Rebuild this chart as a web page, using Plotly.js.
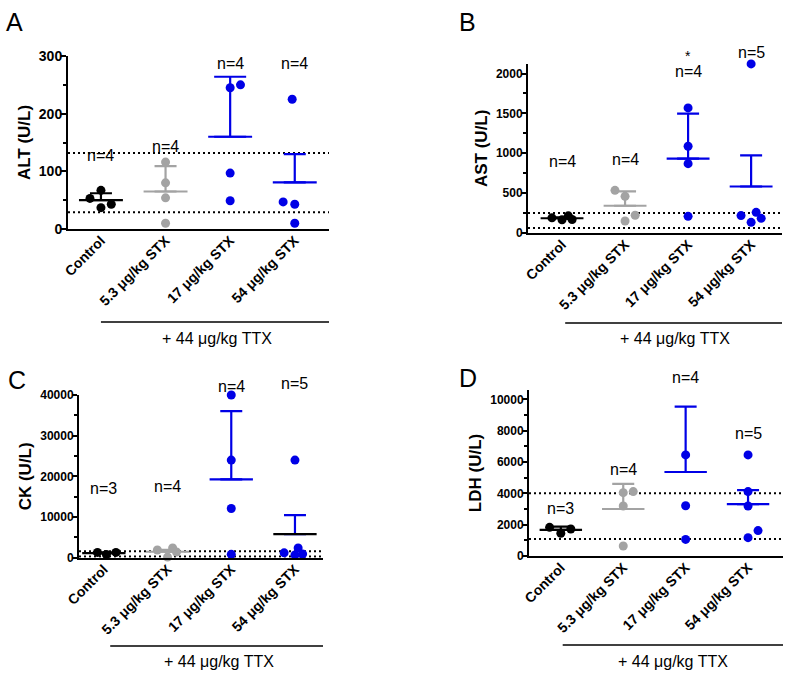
<!DOCTYPE html>
<html>
<head>
<meta charset="utf-8">
<script src="https://cdn.plot.ly/plotly-3.0.1.min.js"></script>
<style>
  html, body { margin: 0; padding: 0; background: #fff; }
  #chart { width: 797px; height: 676px; }
</style>
</head>
<body>
<div id="chart"></div>
<script>
// groups on the x axis
const categories = ['Control', '5.3 μg/kg STX', '17 μg/kg STX', '54 μg/kg STX'];
const groupColors = ['#000000', '#a3a3a3', '#0000e6', '#0000e6'];

// A - ALT
const altValues = [[53, 67, 37, 43], [116, 80, 54, 10], [245, 250, 97, 49], [225, 47, 43, 10]];
const altMean = [50, 65, 160, 81];
const altSem = [12, 44, 104, 49];
const altRef = [132, 29];
const altN = ['n=4', 'n=4', 'n=4', 'n=4'];

// B - AST
const astValues = [[190, 165, 215, 170], [535, 460, 222, 150], [1569, 1088, 870, 209], [2121, 218, 259, 134, 184]];
const astMean = [185, 342, 934, 583];
const astSem = [12, 181, 564, 392];
const astRef = [251, 63];
const astN = ['n=4', 'n=4', 'n=4', 'n=5'];

// C - CK
const ckValues = [[1300, 800, 1300], [1900, 2400, 150, 1400], [40000, 24000, 12100, 820], [24000, 1200, 2400, 660, 900]];
const ckMean = [1130, 1460, 19240, 5820];
const ckSem = [170, 500, 16800, 4670];
const ckRef = [1600, 300];
const ckN = ['n=3', 'n=4', 'n=4', 'n=5'];

// D - LDH
const ldhValues = [[1830, 1450, 1720], [4040, 4110, 3190, 640], [10700, 6450, 3210, 1060], [6450, 4110, 3190, 1620, 1170]];
const ldhMean = [1670, 3000, 5360, 3310];
const ldhSem = [200, 1600, 4170, 900];
const ldhRef = [4000, 1085];
const ldhN = ['n=3', 'n=4', 'n=4', 'n=5'];

const bracketText = '+ 44 μg/kg TTX';

// horizontal scatter of the dots inside each group (layout only)
const altJitter = [[-0.17, 0, 0, 0.16], [0, 0, 0, 0], [0, 0.16, 0, 0], [-0.04, -0.18, 0, 0]];
const astJitter = [[-0.16, 0, 0.1, 0.16], [-0.16, 0, 0.16, 0], [0, 0, 0, 0], [0, -0.16, 0.08, 0, 0.16]];
const ckJitter = [[-0.1, 0.04, 0.19], [-0.16, 0.08, 0, 0.14], [0, 0, 0, 0], [0, -0.17, 0.05, 0, 0.12]];
const ldhJitter = [[-0.18, 0, 0.16], [0, 0.16, 0, 0], [0, 0, 0, 0], [0, 0, 0, 0.16, 0]];

const W = 797, H = 676;
const px = v => v / W;
const py = v => 1 - v / H;

const FONT = 'Arial, "Liberation Sans", sans-serif';

const panels = [
  { id: '', letter: 'A', title: 'ALT (U/L)', values: altValues, mean: altMean, sem: altSem, ref: altRef, n: altN,
    jitter: altJitter, nY: [128, 143, 287, 287], yRange: [0, 300], dtick: 100, capW: [11, 11, 16, 11], tickSize: 14,
    xDom: [px(68), px(329)], yDom: [py(229), py(56)], xRange: [-0.51, 3.53],
    letterXY: [15, 22], bracket: [0, 3.6], bracketY: 322, textY: 338, meanColors: null },
  { id: '2', letter: 'B', title: 'AST (U/L)', values: astValues, mean: astMean, sem: astSem, ref: astRef, n: astN,
    jitter: astJitter, nY: [900, 920, 2020, 2260], yRange: [0, 2125], dtick: 500, capW: [11, 11, 11, 11], tickSize: 12,
    xDom: [px(528), px(782)], yDom: [py(233), py(63.6)], xRange: [-0.54, 3.49],
    letterXY: [468, 22], bracket: [0.05, 3.54], bracketY: 323, textY: 338, meanColors: null, star: 2215 },
  { id: '3', letter: 'C', title: 'CK (U/L)', values: ckValues, mean: ckMean, sem: ckSem, ref: ckRef, n: ckN,
    jitter: ckJitter, nY: [16900, 17500, 42200, 42900], yRange: [0, 40000], dtick: 10000, capW: [11, 11, 11, 11], tickSize: 12,
    xDom: [px(79), px(323)], yDom: [py(557.7), py(395)], xRange: [-0.39, 3.44],
    letterXY: [17, 380], bracket: [0.1, 3.5], bracketY: 646, textY: 661,
    meanColors: ['#000000', '#a3a3a3', '#0000e6', '#000000'] },
  { id: '4', letter: 'D', title: 'LDH (U/L)', values: ldhValues, mean: ldhMean, sem: ldhSem, ref: ldhRef, n: ldhN,
    jitter: ldhJitter, nY: [3000, 5500, 11400, 7800], yRange: [0, 10600], dtick: 2000, capW: [11, 11, 11, 11], tickSize: 12,
    xDom: [px(529), px(783)], yDom: [py(556), py(389.9)], xRange: [-0.51, 3.56],
    letterXY: [468, 378], bracket: [0.03, 3.56], bracketY: 645, textY: 661, meanColors: null }
];

// data value -> paper fraction (annotations above the axis range would be hidden with yref 'y')
function yPaper(p, v) {
  return p.yDom[0] + (v - p.yRange[0]) / (p.yRange[1] - p.yRange[0]) * (p.yDom[1] - p.yDom[0]);
}

const traces = [];
const shapes = [];
const annotations = [];
const layout = {
  width: W, height: H,
  margin: { l: 0, r: 0, t: 0, b: 0 },
  paper_bgcolor: '#fff', plot_bgcolor: '#fff',
  showlegend: false,
  font: { family: FONT, color: '#000' }
};

panels.forEach(p => {
  const xa = 'x' + p.id, ya = 'y' + p.id;

  // dots
  p.values.forEach((vals, g) => {
    traces.push({
      type: 'scatter', mode: 'markers', xaxis: xa, yaxis: ya,
      x: vals.map((v, i) => g + p.jitter[g][i]), y: vals,
      marker: { size: 9, color: groupColors[g] },
      hoverinfo: 'y', cliponaxis: false
    });
  });

  // mean line + upper SEM
  p.mean.forEach((m, g) => {
    traces.push({
      type: 'scatter', mode: 'markers', xaxis: xa, yaxis: ya,
      x: [g], y: [m],
      marker: { size: 1, opacity: 0 },
      error_x: { type: 'data', array: [0.34], symmetric: true, width: 0, thickness: 2.2,
                 color: p.meanColors ? p.meanColors[g] : groupColors[g] },
      error_y: { type: 'data', symmetric: false, array: [p.sem[g]], arrayminus: [0], width: p.capW[g], thickness: 2.2,
                 color: groupColors[g] },
      hoverinfo: 'y', cliponaxis: false
    });
  });

  layout['xaxis' + p.id] = {
    domain: p.xDom, anchor: ya, range: p.xRange,
    tickvals: [0, 1, 2, 3], ticktext: categories, tickangle: -45, ticks: '',
    ticklabelstandoff: -4,
    tickfont: { family: FONT, size: 14, weight: 'bold', color: '#000' },
    showline: true, linewidth: 2, linecolor: '#000',
    showgrid: false, zeroline: false, fixedrange: true
  };
  layout['yaxis' + p.id] = {
    domain: p.yDom, anchor: xa, range: p.yRange,
    tick0: 0, dtick: p.dtick, tickformat: 'd', ticks: 'outside', ticklen: 5, tickwidth: 2, tickcolor: '#000',
    ticklabelstandoff: -4,
    minor: { dtick: p.dtick / 2, ticks: 'outside', ticklen: 3, tickwidth: 2, tickcolor: '#000', showgrid: false },
    tickfont: { family: FONT, size: p.tickSize, weight: 'bold', color: '#000' },
    title: { text: p.title, font: { family: FONT, size: 17, weight: 'bold', color: '#000' }, standoff: 4 },
    showline: true, linewidth: 2, linecolor: '#000',
    showgrid: false, zeroline: false, fixedrange: true
  };

  // reference range (dotted)
  p.ref.forEach(r => {
    shapes.push({
      type: 'line', xref: xa + ' domain', yref: ya, x0: 0, x1: 1, y0: r, y1: r,
      line: { color: '#000', width: 2, dash: '2px,3px' }, layer: 'below'
    });
  });

  // bracket under the treated groups
  shapes.push({
    type: 'line', xref: xa, yref: 'paper', x0: p.bracket[0], x1: p.bracket[1],
    y0: py(p.bracketY), y1: py(p.bracketY), line: { color: '#000', width: 1.6 }
  });
  annotations.push({
    xref: xa, yref: 'paper', x: (p.bracket[0] + p.bracket[1]) / 2, y: py(p.textY),
    text: bracketText, showarrow: false, xanchor: 'center', yanchor: 'middle',
    font: { family: FONT, size: 16, color: '#000' }
  });

  // n= labels
  p.n.forEach((t, g) => {
    annotations.push({
      xref: xa, yref: 'paper', x: g, y: yPaper(p, p.nY[g]), text: t, showarrow: false,
      xanchor: 'center', yanchor: 'middle', font: { family: FONT, size: 16, color: '#000' }
    });
  });
  if (p.star) {
    annotations.push({
      xref: xa, yref: 'paper', x: 2, y: yPaper(p, p.star), text: '*', showarrow: false,
      xanchor: 'center', yanchor: 'middle', font: { family: FONT, size: 14, color: '#000' }
    });
  }

  // panel letter
  annotations.push({
    xref: 'paper', yref: 'paper', x: px(p.letterXY[0]), y: py(p.letterXY[1]), text: p.letter,
    showarrow: false, xanchor: 'center', yanchor: 'middle',
    font: { family: FONT, size: 25, color: '#000' }
  });
});

layout.shapes = shapes;
layout.annotations = annotations;

Plotly.newPlot('chart', traces, layout, { displayModeBar: false, staticPlot: true });
</script>
</body>
</html>
